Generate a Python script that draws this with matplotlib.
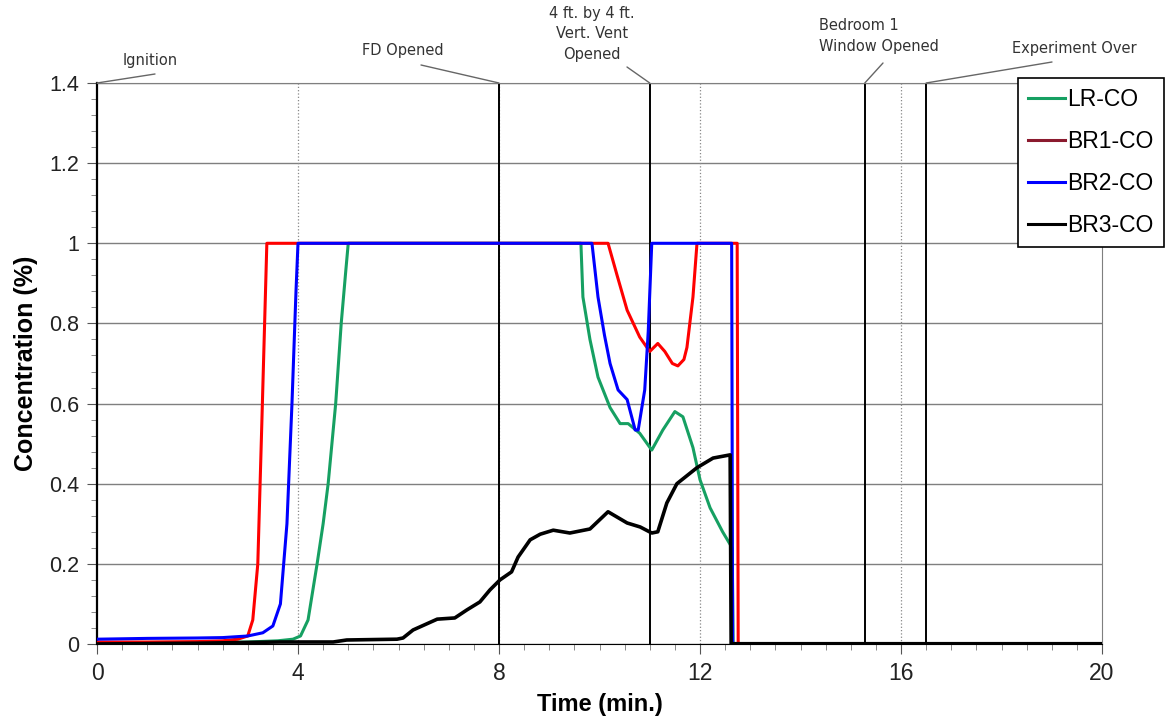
import matplotlib
matplotlib.use('Agg')
import matplotlib.pyplot as plt
from matplotlib.lines import Line2D
from matplotlib.ticker import MultipleLocator

# LR-CO (green)
lr_t = [0, 1, 2, 3, 3.6, 3.9, 4.05, 4.2, 4.38, 4.5, 4.6, 4.75, 4.86, 4.95, 5.0, 9.63, 9.67,
        9.81, 9.97, 10.21, 10.41, 10.57, 10.8, 11.04, 11.26, 11.5, 11.66, 11.86, 12.0,
        12.2, 12.45, 12.64, 12.66, 20]
lr_v = [0.002, 0.002, 0.003, 0.005, 0.008, 0.012, 0.02, 0.06, 0.2, 0.3, 0.4, 0.6, 0.8, 0.93,
        1.0, 1.0, 0.866, 0.76, 0.666, 0.59, 0.55, 0.55, 0.526, 0.484, 0.534, 0.58, 0.567,
        0.49, 0.41, 0.34, 0.28, 0.24, 0.0, 0.0]

# BR1-CO (red)
br1_t = [0, 1, 2, 2.5, 2.8, 3.0, 3.1, 3.2, 3.28, 3.38, 10.17, 10.35, 10.55, 10.8, 11.0,
         11.16, 11.3, 11.45, 11.56, 11.68, 11.74, 11.86, 11.94, 12.74, 12.76, 20]
br1_v = [0.005, 0.005, 0.006, 0.008, 0.012, 0.02, 0.06, 0.2, 0.55, 1.0, 1.0, 0.92, 0.833,
         0.766, 0.73, 0.75, 0.73, 0.70, 0.694, 0.71, 0.74, 0.866, 1.0, 1.0, 0.0, 0.0]

# BR2-CO (blue)
br2_t = [0, 1, 2, 2.5, 3.0, 3.3, 3.5, 3.65, 3.78, 3.88, 3.96, 4.0, 9.85, 9.97, 10.1, 10.21,
         10.37, 10.55, 10.71, 10.77, 10.9, 10.97, 11.04, 12.63, 12.65, 20]
br2_v = [0.012, 0.014, 0.015, 0.016, 0.02, 0.028, 0.045, 0.1, 0.3, 0.6, 0.88, 1.0, 1.0,
         0.866, 0.77, 0.70, 0.634, 0.61, 0.534, 0.534, 0.634, 0.78, 1.0, 1.0, 0.0, 0.0]

# BR3-CO (black)
br3_t = [0, 2, 3.64, 4.7, 4.97, 5.97, 6.09, 6.29, 6.77, 7.12, 7.36, 7.62, 7.82, 8.02,
         8.25, 8.38, 8.62, 8.82, 9.08, 9.41, 9.81, 10.17, 10.55, 10.81, 11.04, 11.16,
         11.34, 11.54, 11.94, 12.26, 12.6, 12.62, 20]
br3_v = [0.0, 0.002, 0.005, 0.005, 0.01, 0.012, 0.015, 0.035, 0.062, 0.065, 0.085, 0.105,
         0.135, 0.16, 0.18, 0.217, 0.26, 0.274, 0.284, 0.277, 0.287, 0.33, 0.302, 0.292,
         0.277, 0.28, 0.352, 0.40, 0.44, 0.464, 0.472, 0.0, 0.0]

events_t = [0, 8, 11, 15.28, 16.5]
events_lbl = ['Ignition', 'FD Opened', '4 ft. by 4 ft.\nVert. Vent\nOpened',
              'Bedroom 1\nWindow Opened', 'Experiment Over']
dotted_t = [4, 8, 12, 16]

series_lbl = ['LR-CO', 'BR1-CO', 'BR2-CO', 'BR3-CO']
line_col = ['#16a062', '#ff0000', '#0000ff', '#000000']
legend_col = ['#16a062', '#8b1a2e', '#0000ff', '#000000']

W, H = 1169, 721
fig = plt.figure(figsize=(W / 100, H / 100), dpi=100)
ax = fig.add_axes([97 / W, 1 - 644 / H, 1005 / W, 561 / H])

ax.set_xlim(0, 20)
ax.set_ylim(0, 1.4)
ax.yaxis.grid(True, color='#7f7f7f', lw=1.0)
for t in dotted_t:
    ax.axvline(t, color='#888888', lw=0.9, ls=':')
for t in events_t[1:]:
    ax.axvline(t, color='black', lw=1.4)

data = [(lr_t, lr_v), (br1_t, br1_v), (br2_t, br2_v), (br3_t, br3_v)]
widths = [2.2, 2.2, 2.2, 2.6]
order = [3, 0, 2, 1]
for i in order:
    t, v = data[i]
    ax.plot(t, v, color=line_col[i], lw=widths[i], zorder=3 + i)
ax.plot([12.7, 20], [0, 0], color='black', lw=3, zorder=8)

# event labels: text position in figure pixels, alignment, leader start
txt_px = [(123, 60, 'left', 'center'), (403, 50, 'center', 'center'),
          (592, 34, 'center', 'center'), (819, 36, 'left', 'left'),
          (1074, 48, 'center', 'center')]
lead_px = [(155, 74), (421, 65), (627, 67), (883, 63), (1052, 62)]

def fpx(x, y):
    return (x / W, 1 - y / H)

for t, lbl, (tx, ty, ha, ma), (lx, ly) in zip(events_t, events_lbl, txt_px, lead_px):
    fig.text(*fpx(tx, ty), lbl, ha=ha, va='center', multialignment=ma,
             fontsize=10.5, color='#333333', family='DejaVu Sans', linespacing=1.45)
    ax.annotate('', xy=(t, 1.4), xytext=fpx(lx, ly), textcoords='figure fraction',
                arrowprops=dict(arrowstyle='-', color='#666666', lw=1.0,
                                shrinkA=0, shrinkB=0),
                annotation_clip=False)

ax.set_xticks([0, 4, 8, 12, 16, 20])
ax.set_xticklabels(['0', '4', '8', '12', '16', '20'])
ax.xaxis.set_minor_locator(MultipleLocator(0.5))
ax.set_yticks([0, 0.2, 0.4, 0.6, 0.8, 1.0, 1.2, 1.4])
ax.set_yticklabels(['0', '0.2', '0.4', '0.6', '0.8', '1', '1.2', '1.4'])
ax.yaxis.set_minor_locator(MultipleLocator(0.04))
ax.tick_params(axis='both', which='major', direction='out', length=7,
               colors='#555555', labelcolor='#222222', pad=6)
ax.tick_params(axis='x', which='major', labelsize=16.5)
ax.tick_params(axis='y', which='major', labelsize=15.5)
ax.tick_params(axis='both', which='minor', direction='out', length=4, colors='#777777')
for lab in ax.get_xticklabels() + ax.get_yticklabels():
    lab.set_family(['Liberation Sans', 'DejaVu Sans'])

for s in ['top', 'right']:
    ax.spines[s].set_color('#7f7f7f')
ax.spines['left'].set_color('black')
ax.spines['left'].set_linewidth(1.6)
ax.spines['bottom'].set_color('black')

ax.set_xlabel('Time (min.)', fontsize=17, fontweight='bold',
              family=['Liberation Sans', 'DejaVu Sans'], labelpad=6)
ax.set_ylabel('Concentration (%)', fontsize=18, fontweight='bold',
              family=['Liberation Sans', 'DejaVu Sans'], labelpad=8)

handles = [Line2D([0], [0], color=c, lw=2.2) for c in legend_col]
leg = fig.legend(handles, series_lbl, loc='upper left', bbox_to_anchor=fpx(1018, 78),
                 frameon=True, fancybox=False, edgecolor='black', framealpha=1,
                 handlelength=1.6, handletextpad=0.1, labelspacing=0.82,
                 borderpad=0.45, borderaxespad=0,
                 prop={'family': ['Liberation Sans', 'DejaVu Sans'], 'size': 16.5})
leg.get_frame().set_linewidth(1.2)
leg.set_zorder(10)

fig.savefig('out.png', dpi=100)
